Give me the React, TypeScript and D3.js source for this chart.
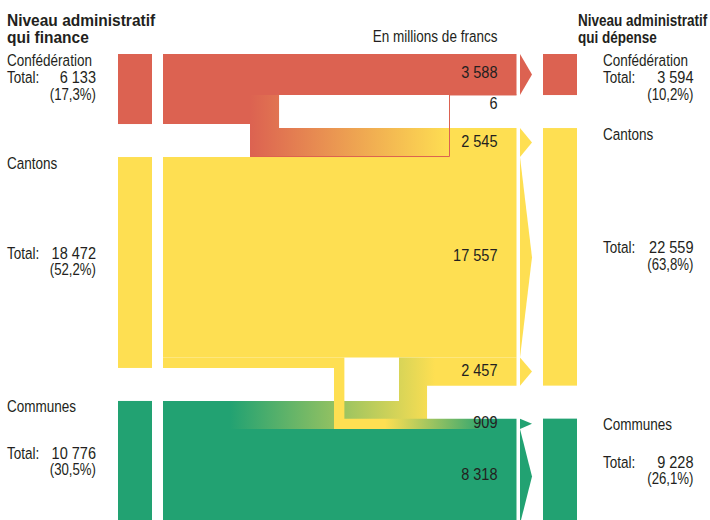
import React from "react";
import * as d3 from "d3";

// ---------- data ----------
const levels = ["Confédération", "Cantons", "Communes"];
const financeTotals = [6133, 18472, 10776];
const financeShares = ["(17,3%)", "(52,2%)", "(30,5%)"];
const expenseTotals = [3594, 22559, 9228];
const expenseShares = ["(10,2%)", "(63,8%)", "(26,1%)"];
const flowSources = [0, 0, 1, 1, 1, 2, 2];
const flowTargets = [0, 1, 0, 1, 2, 1, 2];
const flowValues = [3588, 2545, 6, 17557, 909, 2457, 8318];

const headerLeft = ["Niveau administratif", "qui finance"];
const headerRight = ["Niveau administratif", "qui dépense"];
const unitLabel = "En millions de francs";
const totalLabel = "Total:";

// ---------- style / layout ----------
const colors = ["#DC6251", "#FEDF52", "#22A272"];
const W = 710;
const H = 520;
const TOP = 54;
const GAP = 33;
const BOTTOM = 524;
const LEFT_BAR = [118, 152];
const BAND = [163, 516.5];
const ARROW = [520, 532];
const RIGHT_BAR = [543, 577];
const connectorX: Record<number, number> = { 1: 250, 2: 449, 4: 334, 5: 399 };
const gradientX: Record<number, [number, number]> = {
  1: [250, 450],
  4: [385, 490],
  5: [230, 435],
};
const thinLineStart = 250;
const FONT = "'Liberation Sans', Arial, sans-serif";
const TXT = "#231f20";
const FS = 16.5;
const SX_WORD = 0.82;
const SX_NUM = 0.88;
const SX_SHARE = 0.8;

const fr = d3.formatLocale({
  decimal: ",",
  thousands: " ",
  grouping: [3],
  currency: ["", ""],
});
const fmt = fr.format(",");

function NText(props: {
  x: number;
  y: number;
  sx: number;
  anchor?: string;
  size?: number;
  bold?: boolean;
  children: any;
}) {
  const { x, y, sx, anchor = "start", size = FS, bold = false, children } = props;
  return (
    <text
      transform={`translate(${x},${y}) scale(${sx},1)`}
      textAnchor={anchor}
      fontFamily={FONT}
      fontSize={size}
      fontWeight={bold ? "bold" : "normal"}
      fill={TXT}
    >
      {children}
    </text>
  );
}

export default function App() {
  const total = d3.sum(financeTotals);
  const y = d3
    .scaleLinear()
    .domain([0, total])
    .range([0, BOTTOM - TOP - 2 * GAP]);

  const leftTop = financeTotals.map(
    (_, i) => TOP + i * GAP + y(d3.sum(financeTotals.slice(0, i)))
  );
  const rightTop = expenseTotals.map(
    (_, i) => TOP + i * GAP + y(d3.sum(expenseTotals.slice(0, i)))
  );

  const srcCum = [0, 0, 0];
  const dstCum = [0, 0, 0];
  const flows = flowValues.map((v, i) => {
    const s = flowSources[i];
    const t = flowTargets[i];
    const s0 = leftTop[s] + y(srcCum[s]);
    const d0 = rightTop[t] + y(dstCum[t]);
    srcCum[s] += v;
    dstCum[t] += v;
    const w = y(v);
    return { i, v, s, t, s0, s1: s0 + w, d0, d1: d0 + w, w };
  });

  const [x0, x1] = BAND;

  const shapePath = (f: any) => {
    if (f.s === f.t) {
      return `M${x0},${f.s0}L${x1},${f.d0}L${x1},${f.d1}L${x0},${f.s1}Z`;
    }
    const cx = connectorX[f.i];
    if (f.d0 > f.s0) {
      return `M${x0},${f.s0}H${cx + f.w}V${f.d0}H${x1}V${f.d1}H${cx}V${f.s1}H${x0}Z`;
    }
    return `M${x0},${f.s0}H${cx}V${f.d0}H${x1}V${f.d1}H${cx + f.w}V${f.s1}H${x0}Z`;
  };

  const straight = flows.filter((f) => f.s === f.t);
  const crossOrder = [1, 5, 4];
  const thin = flows.filter((f) => f.s !== f.t && f.w < 1);

  const sideLabel = (
    i: number,
    top: number,
    h: number,
    value: number,
    share: string,
    xName: number,
    xNum: number,
    key: string
  ) => {
    const tBase = h < 100 ? top + 29 : top + h / 2 - 3.5;
    return (
      <g key={key}>
        <NText x={xName} y={top + 11.5} sx={SX_WORD}>
          {levels[i]}
        </NText>
        <NText x={xName} y={tBase} sx={SX_WORD}>
          {totalLabel}
        </NText>
        <NText x={xNum} y={tBase} sx={SX_NUM} anchor="end">
          {fmt(value)}
        </NText>
        <NText x={xNum} y={tBase + 16.5} sx={SX_SHARE} anchor="end">
          {share}
        </NText>
      </g>
    );
  };

  return (
    <svg
      width={W}
      height={H}
      viewBox={`0 0 ${W} ${H}`}
      style={{ position: "absolute", left: 0, top: 0, background: "#fff" }}
    >
      <defs>
        {crossOrder.map((k) => {
          const f = flows[k];
          const [g0, g1] = gradientX[k];
          return (
            <linearGradient
              key={k}
              id={`grad${k}`}
              gradientUnits="userSpaceOnUse"
              x1={g0}
              x2={g1}
              y1={0}
              y2={0}
            >
              <stop offset="0%" stopColor={colors[f.s]} />
              <stop offset="100%" stopColor={colors[f.t]} />
            </linearGradient>
          );
        })}
      </defs>

      {/* left bars */}
      {financeTotals.map((v, i) => (
        <rect
          key={`lb${i}`}
          x={LEFT_BAR[0]}
          width={LEFT_BAR[1] - LEFT_BAR[0]}
          y={leftTop[i]}
          height={y(v)}
          fill={colors[i]}
        />
      ))}
      {/* right bars */}
      {expenseTotals.map((v, i) => (
        <rect
          key={`rb${i}`}
          x={RIGHT_BAR[0]}
          width={RIGHT_BAR[1] - RIGHT_BAR[0]}
          y={rightTop[i]}
          height={y(v)}
          fill={colors[i]}
        />
      ))}

      {/* straight flows */}
      {straight.map((f) => (
        <path key={`f${f.i}`} d={shapePath(f)} fill={colors[f.s]} />
      ))}
      {/* cross flows */}
      {crossOrder.map((k) => (
        <path key={`c${k}`} d={shapePath(flows[k])} fill={`url(#grad${k})`} />
      ))}
      {/* thin flows */}
      {thin.map((f) => (
        <path
          key={`t${f.i}`}
          d={`M${thinLineStart},${f.s0 - 0.5}H${connectorX[f.i] + 0.5}V${f.d0}H${x1}`}
          fill="none"
          stroke={colors[f.t]}
          strokeWidth={1}
        />
      ))}

      {/* arrows */}
      {flows
        .filter((f) => f.w >= 1)
        .map((f) => (
          <polygon
            key={`a${f.i}`}
            points={`${ARROW[0]},${f.d0} ${ARROW[1]},${(f.d0 + f.d1) / 2} ${ARROW[0]},${f.d1}`}
            fill={colors[f.t]}
          />
        ))}

      {/* flow value labels */}
      {flows.map((f) => (
        <NText
          key={`v${f.i}`}
          x={497.5}
          y={f.w < 2 ? f.d1 + 14 : (f.d0 + f.d1) / 2 + 4}
          sx={SX_NUM}
          anchor="end"
        >
          {fmt(f.v)}
        </NText>
      ))}

      {/* headers */}
      {headerLeft.map((t, i) => (
        <NText key={`hl${i}`} x={7} y={26 + i * 16.5} sx={0.94} bold>
          {t}
        </NText>
      ))}
      {headerRight.map((t, i) => (
        <NText key={`hr${i}`} x={578} y={26 + i * 16.5} sx={0.82} bold>
          {t}
        </NText>
      ))}
      <NText x={497.5} y={42} sx={SX_WORD} anchor="end">
        {unitLabel}
      </NText>

      {/* side labels */}
      {financeTotals.map((v, i) =>
        sideLabel(i, leftTop[i], y(v), v, financeShares[i], 7, 96, `sl${i}`)
      )}
      {expenseTotals.map((v, i) =>
        sideLabel(i, rightTop[i], y(v), v, expenseShares[i], 603, 693.5, `sr${i}`)
      )}
    </svg>
  );
}
